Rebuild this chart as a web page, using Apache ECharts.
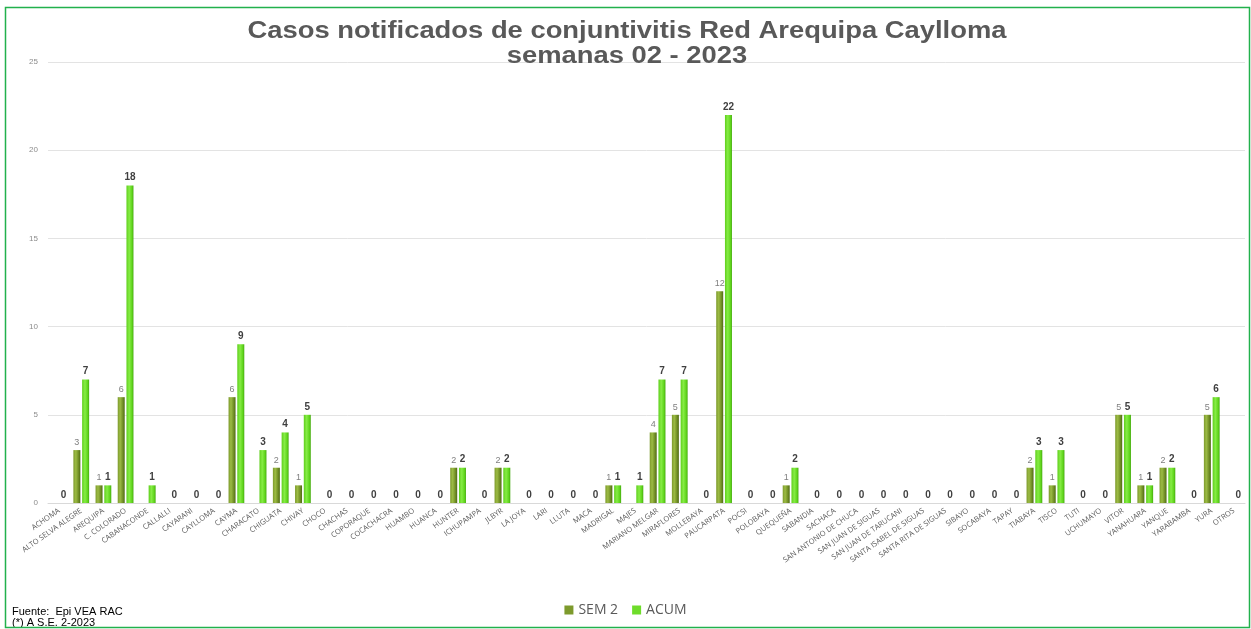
<!DOCTYPE html>
<html>
<head>
<meta charset="utf-8">
<script src="https://cdn.jsdelivr.net/npm/echarts@6/dist/echarts.min.js"></script>
<style>
html,body{margin:0;padding:0;background:#fff;}
#chart{width:1251px;height:629px;}
</style>
</head>
<body>
<div id="chart"></div>
<script>
var categories = ["ACHOMA","ALTO SELVA ALEGRE","AREQUIPA","C. COLORADO","CABANACONDE","CALLALLI","CAYARANI","CAYLLOMA","CAYMA","CHARACATO","CHIGUATA","CHIVAY","CHOCO","CHACHAS","COPORAQUE","COCACHACRA","HUAMBO","HUANCA","HUNTER","ICHUPAMPA","JLBYR","LA JOYA","LARI","LLUTA","MACA","MADRIGAL","MAJES","MARIANO MELGAR","MIRAFLORES","MOLLEBAYA","PAUCARPATA","POCSI","POLOBAYA","QUEQUEÑA","SABANDIA","SACHACA","SAN ANTONIO DE CHUCA","SAN JUAN DE SIGUAS","SAN JUAN DE TARUCANI","SANTA ISABEL DE SIGUAS","SANTA RITA DE SIGUAS","SIBAYO","SOCABAYA","TAPAY","TIABAYA","TISCO","TUTI","UCHUMAYO","VITOR","YANAHUARA","YANQUE","YARABAMBA","YURA","OTROS"];
var sem2 = [0,3,1,6,0,0,0,0,6,0,2,1,0,0,0,0,0,0,2,0,2,0,0,0,0,1,0,4,5,0,12,0,0,1,0,0,0,0,0,0,0,0,0,0,2,1,0,0,5,1,2,0,5,0];
var acum = [0,7,1,18,1,0,0,0,9,3,4,5,0,0,0,0,0,0,2,0,2,0,0,0,0,1,1,7,7,0,22,0,0,2,0,0,0,0,0,0,0,0,0,0,3,3,0,0,5,1,2,0,6,0];
var yTicks = [0,5,10,15,20,25];
var titleLines = ['Casos notificados de conjuntivitis Red Arequipa Caylloma','semanas 02 - 2023'];

var chart = echarts.init(document.getElementById('chart'), null, {renderer:'canvas'});
var semColor = new echarts.graphic.LinearGradient(0,0,1,0,[
  {offset:0,color:'#7d9a2c'},{offset:0.35,color:'#9cbb44'},{offset:0.75,color:'#6f8c24'},{offset:1,color:'#4f6a16'}]);
var acumColor = new echarts.graphic.LinearGradient(0,0,1,0,[
  {offset:0,color:'#5fcf1c'},{offset:0.4,color:'#86ec45'},{offset:0.8,color:'#5ed41a'},{offset:1,color:'#45a810'}]);
var titleFont = {fontSize:23,fontWeight:'bold',fill:'#595959',fontFamily:'Liberation Sans, Arial, sans-serif',align:'center',verticalAlign:'middle'};
var option = {
  animation:false,
  backgroundColor:'#ffffff',
  textStyle:{fontFamily:'Liberation Sans, Arial, sans-serif'},
  legend:{
    bottom:7, left:'center',
    itemWidth:9,itemHeight:9,itemGap:14,
    icon:'rect',
    textStyle:{fontSize:14,color:'#595959',fontFamily:'Open Sans, Liberation Sans, sans-serif'},
    data:[{name:'SEM 2',itemStyle:{color:'#7d9a2c'}},{name:'ACUM',itemStyle:{color:'#6edc2a'}}]
  },
  grid:{left:48,right:6,top:62,bottom:126,containLabel:false},
  xAxis:{
    type:'category',data:categories,
    axisLine:{lineStyle:{color:'#d9d9d9'}},
    axisTick:{show:false},
    axisLabel:{interval:0,rotate:35,fontSize:7.5,color:'#595959',margin:7,fontFamily:'Open Sans, sans-serif'}
  },
  yAxis:{
    type:'value',min:0,max:25,interval:5,
    axisLine:{show:false},axisTick:{show:false},
    axisLabel:{fontSize:8,color:'#8c8c8c',margin:10,
      formatter:function(v){return yTicks.indexOf(v)>=0?String(v):'';}},
    splitLine:{lineStyle:{color:'#e3e3e3',width:1}}
  },
  series:[
    {name:'SEM 2',type:'bar',data:sem2,barWidth:7,barGap:'25%',
     itemStyle:{color:semColor},
     label:{show:true,position:'top',distance:3,fontSize:9,color:'#7f7f7f',
       formatter:function(p){return p.value===0?'':String(p.value);}}},
    {name:'ACUM',type:'bar',data:acum,barWidth:7,
     itemStyle:{color:acumColor},
     label:{show:true,position:'top',distance:3,fontSize:10,fontWeight:'bold',color:'#404040'}}
  ],
  graphic:[
    {type:'rect',shape:{x:5.5,y:7.5,width:1244,height:620},style:{fill:'none',stroke:'#22b14c',lineWidth:1.5},silent:true,z:100},
    {type:'text',x:627,y:32,scaleX:1.19,style:Object.assign({text:titleLines[0]},titleFont),z:50},
    {type:'text',x:627,y:57,scaleX:1.19,style:Object.assign({text:titleLines[1]},titleFont),z:50},
    {type:'text',left:12,top:606,style:{text:'Fuente:  Epi VEA RAC',fontSize:11,fill:'#000',fontFamily:'Liberation Sans, Arial, sans-serif'}},
    {type:'text',left:12,top:617,style:{text:'(*) A S.E. 2-2023',fontSize:11,fill:'#000',fontFamily:'Liberation Sans, Arial, sans-serif'}}
  ]
};
chart.setOption(option);
</script>
</body>
</html>
